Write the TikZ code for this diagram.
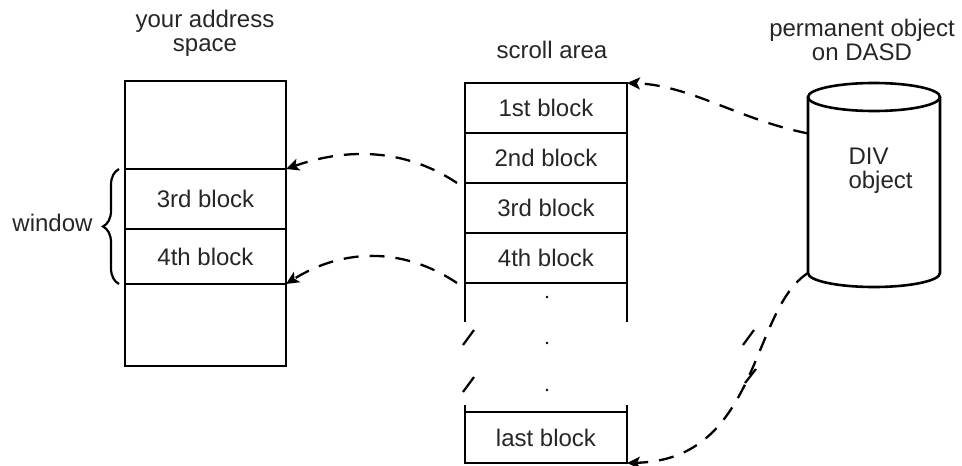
\documentclass[tikz,border=0pt]{standalone}
\usepackage{fontspec}
\setmainfont{Liberation Sans}
\usetikzlibrary{arrows.meta,positioning,decorations.pathreplacing}
\definecolor{ink}{HTML}{262626}

\begin{document}
\begin{tikzpicture}[x=1pt,y=-1pt,>={Stealth[length=13pt,width=12pt,inset=3pt]},
 font=\fontsize{24}{24}\selectfont,
 cell/.style={draw,line width=2.6pt,outer sep=0pt,inner sep=0pt,text=ink},
 link/.style={->,line width=2.3pt,dash pattern=on 15pt off 11pt}]
\useasboundingbox (0,0) rectangle (962,466);
\node[align=center,text=ink] (addrlbl) at (205,33){your address\\space};
\node[text=ink] (scrlbl) at (552,50){scroll area};
\node[align=center,text=ink] (dasdlbl) at (862,40){permanent object\\on DASD};
% your address space
\foreach \n/\t/\y/\h in {a1//125/88,a3/3rd block/199/60,a4/4th block/256.5/55,a5//325/82}
 \node[cell,minimum width=161pt,minimum height=\h pt] (\n) at (205.5,\y){\t};
\draw[line width=2.2pt,decorate,decoration={brace,amplitude=16pt}]
 ([xshift=-6pt]a4.south west)--([xshift=-6pt]a3.north west);
\node[anchor=east,text=ink] (winlbl) at (96,223){window};
% scroll area
\foreach \i/\t/\y in {1/1st/108,2/2nd/158,3/3rd/208,4/4th/258}
 \node[cell,minimum width=162pt,minimum height=50pt] (s\i) at (546,\y){\t\ block};
\draw[line width=2.6pt] (s4.south west)--++(0,39) (s4.south east)--++(0,39);
\foreach \y in {297,343,390} \fill (547,\y) circle (1.4pt);
\foreach \y in {345,392} \draw[line width=2.2pt] (463,\y)--++(11,-15);
\node[cell,minimum width=162pt,minimum height=51pt] (sL) at (546,437.5){last block};
\draw[line width=2.6pt] (sL.north west)--++(0,-7) (sL.north east)--++(0,-7);
% DASD
\node[minimum width=132pt,minimum height=176pt,outer sep=0pt] (dasd) at (874,185){};
\draw[line width=2.6pt] (dasd.north west)--(dasd.south west)
 arc[start angle=180,end angle=360,x radius=66pt,y radius=14pt]--(dasd.north east);
\draw[line width=2.6pt] (dasd.north) ellipse[x radius=66pt,y radius=14pt];
\node[align=left,anchor=west,text=ink] (divtxt) at (845,171){DIV\\object};
% links
\draw[link] (dasd.142) .. controls (740,120) and (690,85) .. (s1.north east);
\draw[link] ([xshift=-8pt]s3.north west) .. controls (400,145) and (340,150) .. (a3.north east);
\draw[link] ([xshift=-8pt]s4.south west) .. controls (400,245) and (340,250) .. (a5.north east);
\draw[link] (dasd.south west) .. controls (750,310) and (760,460) .. (sL.south east);
\draw[line width=2.2pt] (743,345)--(754,330) (745,383)--(756,369);
\end{tikzpicture}
\end{document}
